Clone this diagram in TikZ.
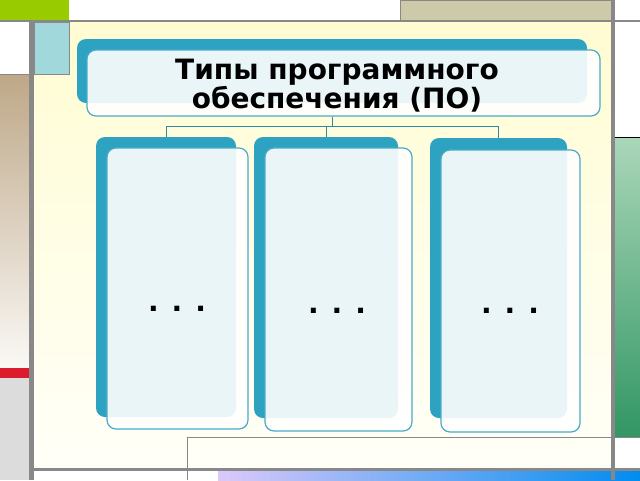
\documentclass[tikz,border=0pt]{standalone}
\usepackage{fontspec}
\setmainfont{DejaVu Sans}
\usetikzlibrary{positioning}
\definecolor{tealback}{RGB}{45,163,193}
\definecolor{tealline}{RGB}{72,172,200}
\definecolor{linkcol}{RGB}{46,138,160}
\definecolor{framegray}{RGB}{136,136,136}
\definecolor{topgreen}{RGB}{153,204,0}
\definecolor{khaki}{RGB}{204,202,168}
\definecolor{paleteal}{RGB}{160,216,220}
\definecolor{tantop}{RGB}{190,168,136}
\definecolor{tanbottom}{RGB}{250,248,245}
\definecolor{stripred}{RGB}{220,28,44}
\definecolor{lightgray}{RGB}{220,220,220}
\definecolor{yellowtop}{RGB}{255,252,210}
\definecolor{yellowbottom}{RGB}{255,255,248}
\definecolor{greentop}{RGB}{170,215,185}
\definecolor{greenbottom}{RGB}{50,150,100}
\definecolor{lavender}{RGB}{220,200,250}
\definecolor{skyblue}{RGB}{0,140,240}

\begin{document}
\begin{tikzpicture}[x=1pt, y=-1pt,
    backbox/.style={fill=tealback, rounded corners=9pt, inner sep=0pt},
    frontbox/.style={draw=tealline, line width=1.2pt, fill=white, fill opacity=0.9, text opacity=1, rounded corners=9pt, inner sep=0pt},
    titletext/.style={font=\fontsize{28}{29}\selectfont\bfseries, align=center},
    dots/.style={font=\fontsize{28}{29}\selectfont\bfseries, anchor=base},
    link/.style={draw=linkcol, line width=0.8pt},
    frame/.style={draw=framegray}]
    % Slide background
    \fill[white] (0,0) rectangle (640,480);
    \useasboundingbox (0,0) rectangle (640,480);
    \fill[topgreen] (0,0) rectangle (69,21);
    \filldraw[fill=khaki, frame, line width=1pt] (400,0) rectangle (612,21);
    \draw[frame, line width=1pt] (400,21) rectangle (612,32);
    \shade[top color=tantop, bottom color=tanbottom] (0,75) rectangle (29,368);
    \fill[stripred] (0,368) rectangle (29,378);
    \fill[lightgray] (0,378) rectangle (29,480);
    \draw[frame, line width=1pt] (0,74.5) -- (29,74.5);
    \shade[top color=yellowtop, bottom color=yellowbottom] (34,22) rectangle (611,468);
    \filldraw[fill=paleteal, frame, line width=1pt] (34,22) rectangle (69,74);
    \draw[frame, line width=1pt] (187,480) |- (612,437);
    \shade[top color=greentop, bottom color=greenbottom] (615,138) rectangle (640,437);
    \draw[black, line width=1pt] (615,137.5) -- (640,137.5);
    \draw[frame, line width=1pt] (615,437) -- (640,437);
    \shade[left color=lavender, right color=skyblue] (218,471) rectangle (640,480);
    % Frame bars
    \draw[frame, line width=2pt] (0,21) -- (640,21);
    \draw[frame, line width=5pt] (31.5,21) -- (31.5,480);
    \draw[frame, line width=4pt] (613,0) -- (613,480);
    \draw[frame, line width=3pt] (29,469.5) -- (640,469.5);

    % Title box
    \node[backbox, minimum width=510pt, minimum height=64pt] (tback) at (332,71) {};
    \node[frontbox, minimum width=513pt, minimum height=66pt] (tfront) at (343.5,83) {};
    \node[titletext] (ttl) at (337,86) {Типы программного\\обеспечения (ПО)};

    % Type boxes
    \node[backbox, minimum width=140pt, minimum height=280pt] (aback) at (166,277) {};
    \node[frontbox, minimum width=141pt, minimum height=281pt] (afront) at (177.5,288.5) {};
    \node[backbox, minimum width=144pt, minimum height=281pt] (bback) at (326,277.5) {};
    \node[frontbox, minimum width=147pt, minimum height=283pt] (bfront) at (338.5,289.5) {};
    \node[backbox, minimum width=137pt, minimum height=280pt] (cback) at (498.5,278) {};
    \node[frontbox, minimum width=139pt, minimum height=282pt] (cfront) at (510.5,291) {};

    \node[dots] (adots) at (177,311) {. . .};
    \node[dots] (bdots) at (337,313) {. . .};
    \node[dots] (cdots) at (510,313) {. . .};

    % Connectors
    \coordinate (fork) at (332,126);
    \draw[link] (fork |- tfront.south) -- (fork);
    \draw[link] (fork) -| (aback.north);
    \draw[link] (fork) -| (bback.north);
    \draw[link] (fork) -| (cback.north);
\end{tikzpicture}
\end{document}
